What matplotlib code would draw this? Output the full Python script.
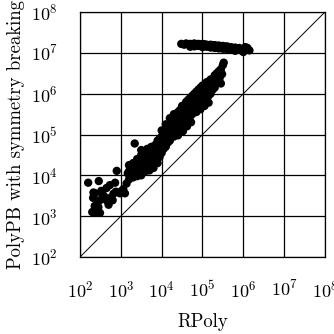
import numpy as np
import matplotlib
matplotlib.use("Agg")
import matplotlib.pyplot as plt

plt.rcParams["font.family"] = ["cmr10"]
plt.rcParams["mathtext.fontset"] = "cm"
plt.rcParams["axes.formatter.use_mathtext"] = True
plt.rcParams["font.size"] = 13.5

# run times, stored as log10 exponents
# small instances (bottom left)
small_rpoly = [2.20, 2.46, 2.86, 2.90, 3.34, 2.30, 2.38, 2.49, 2.35, 2.43,
               2.33, 2.37, 2.42, 2.50, 2.55, 2.60, 2.65, 2.73, 2.57, 2.75,
               2.80, 2.82, 2.88, 2.98, 3.02, 3.06, 3.10, 3.14, 3.17, 2.45,
               2.66, 2.70, 2.32, 2.36, 2.52]
small_polypb = [3.82, 3.86, 3.82, 4.11, 4.78, 3.10, 3.08, 3.08, 3.14, 3.12,
                3.58, 3.56, 3.30, 3.40, 3.55, 3.48, 3.69, 3.76, 3.47, 3.45,
                3.39, 3.55, 3.60, 3.56, 3.62, 3.66, 3.56, 3.80, 4.05, 3.22,
                3.38, 3.28, 3.45, 3.25, 3.62]

# main band
band_rpoly = [3.20, 3.20, 3.20, 3.25, 3.25, 3.30, 3.30, 3.30, 3.35, 3.35,
              3.40, 3.40, 3.40, 3.45, 3.45, 3.50, 3.50, 3.50, 3.50, 3.55,
              3.55, 3.60, 3.60, 3.60, 3.65, 3.65, 3.65, 3.70, 3.70, 3.70,
              3.75, 3.75, 3.75, 3.80, 3.80, 3.80, 3.85, 3.85, 3.85, 3.90,
              3.90, 3.90, 3.90, 3.95, 3.95, 3.95, 4.00, 4.00, 4.00, 4.00,
              4.05, 4.05, 4.05, 4.10, 4.10, 4.10, 4.10, 4.15, 4.15, 4.15,
              4.20, 4.20, 4.20, 4.20, 4.25, 4.25, 4.25, 4.30, 4.30, 4.30,
              4.30, 4.35, 4.35, 4.35, 4.40, 4.40, 4.40, 4.45, 4.45, 4.45,
              4.50, 4.50, 4.50, 4.55, 4.55, 4.55, 4.60, 4.60, 4.60, 4.65,
              4.65, 4.65, 4.70, 4.70, 4.70, 4.75, 4.75, 4.75, 4.80, 4.80,
              4.80, 4.85, 4.85, 4.85, 4.90, 4.90, 4.90, 4.95, 4.95, 4.95,
              5.00, 5.00, 5.00, 5.05, 5.05, 5.05, 5.10, 5.10, 5.10, 5.15,
              5.15, 5.15, 5.20, 5.20, 5.20, 5.25, 5.25, 5.30, 5.30, 5.30,
              5.35, 5.35, 5.40, 5.40, 5.45, 5.45, 5.50, 5.52, 4.85, 4.95,
              5.05, 5.15, 4.62, 4.72, 4.40, 4.52, 5.42, 5.48]
band_polypb = [3.90, 4.10, 4.25, 4.00, 4.20, 3.95, 4.15, 4.30, 4.05, 4.25,
               3.98, 4.20, 4.40, 4.10, 4.35, 4.00, 4.25, 4.50, 4.62, 4.15,
               4.40, 4.10, 4.30, 4.55, 4.20, 4.45, 4.65, 4.12, 4.35, 4.60,
               4.25, 4.50, 4.70, 4.18, 4.40, 4.62, 4.35, 4.55, 4.75, 4.30,
               4.50, 4.70, 4.85, 4.45, 4.65, 4.90, 4.55, 4.75, 4.95, 5.10,
               4.65, 4.85, 5.05, 4.70, 4.90, 5.10, 5.25, 4.80, 5.00, 5.20,
               4.85, 5.05, 5.25, 5.40, 4.95, 5.15, 5.35, 4.95, 5.20, 5.40,
               5.50, 5.05, 5.30, 5.50, 5.10, 5.35, 5.55, 5.20, 5.40, 5.60,
               5.15, 5.45, 5.70, 5.30, 5.50, 5.72, 5.30, 5.55, 5.80, 5.40,
               5.65, 5.85, 5.45, 5.70, 5.90, 5.50, 5.75, 5.95, 5.55, 5.80,
               6.00, 5.65, 5.90, 6.05, 5.70, 5.95, 6.10, 5.75, 6.00, 6.15,
               5.80, 6.00, 6.20, 5.85, 6.05, 6.22, 5.90, 6.10, 6.28, 5.95,
               6.15, 6.30, 6.00, 6.20, 6.35, 6.10, 6.30, 6.15, 6.35, 6.45,
               6.25, 6.50, 6.30, 6.55, 6.25, 6.60, 6.70, 6.76, 5.55, 5.62,
               5.70, 5.78, 5.20, 5.30, 4.98, 5.08, 6.38, 6.48]

# timeouts (flat band near 10^7)
flat_rpoly = [4.48, 4.55, 4.60, 4.65, 4.70, 4.75, 4.80, 4.85, 4.90, 4.95,
              5.00, 5.05, 5.10, 5.15, 5.20, 5.25, 5.30, 5.35, 5.40, 5.45,
              5.50, 5.55, 5.60, 5.65, 5.70, 5.75, 5.80, 5.85, 5.90, 5.95,
              6.00, 6.05, 6.10, 6.15, 5.10, 5.30, 5.50, 5.70, 5.90, 4.90,
              4.70, 4.80, 5.00, 5.20, 5.40, 5.60, 5.80, 6.00]
flat_polypb = [7.22, 7.20, 7.23, 7.21, 7.22, 7.20, 7.23, 7.21, 7.22, 7.20,
               7.22, 7.21, 7.20, 7.19, 7.20, 7.18, 7.19, 7.17, 7.18, 7.16,
               7.17, 7.15, 7.16, 7.12, 7.14, 7.10, 7.13, 7.08, 7.08, 7.06,
               7.08, 7.14, 7.12, 7.06, 7.15, 7.12, 7.10, 7.08, 7.12, 7.17,
               7.15, 7.16, 7.14, 7.13, 7.11, 7.09, 7.05, 7.02]

rpoly = 10.0 ** np.array(small_rpoly + band_rpoly + flat_rpoly)
polypb = 10.0 ** np.array(small_polypb + band_polypb + flat_polypb)

ticks = [1e2, 1e3, 1e4, 1e5, 1e6, 1e7, 1e8]

fig = plt.figure(figsize=(3.34, 3.34), dpi=100)
ax = fig.add_axes([0.2395, 0.2305, 0.7335, 0.7335])

ax.set_xscale("log")
ax.set_yscale("log")
ax.set_xlim(1e2, 1e8)
ax.set_ylim(1e2, 1e8)
ax.set_xticks(ticks)
ax.set_yticks(ticks)
ax.minorticks_off()
ax.tick_params(length=0, pad=16, labelsize=13)
ax.grid(True, color="black", linewidth=0.9)
ax.set_axisbelow(True)
for sp in ax.spines.values():
    sp.set_linewidth(0.9)

ax.plot([1e2, 1e8], [1e2, 1e8], color="black", linewidth=0.7, zorder=2)
ax.scatter(rpoly, polypb, s=36, color="black", edgecolors="none", zorder=3)

ax.set_xlabel("RPoly", labelpad=9)
ax.set_ylabel("PolyPB with symmetry breaking", labelpad=4)

fig.savefig("out.png", dpi=100)
